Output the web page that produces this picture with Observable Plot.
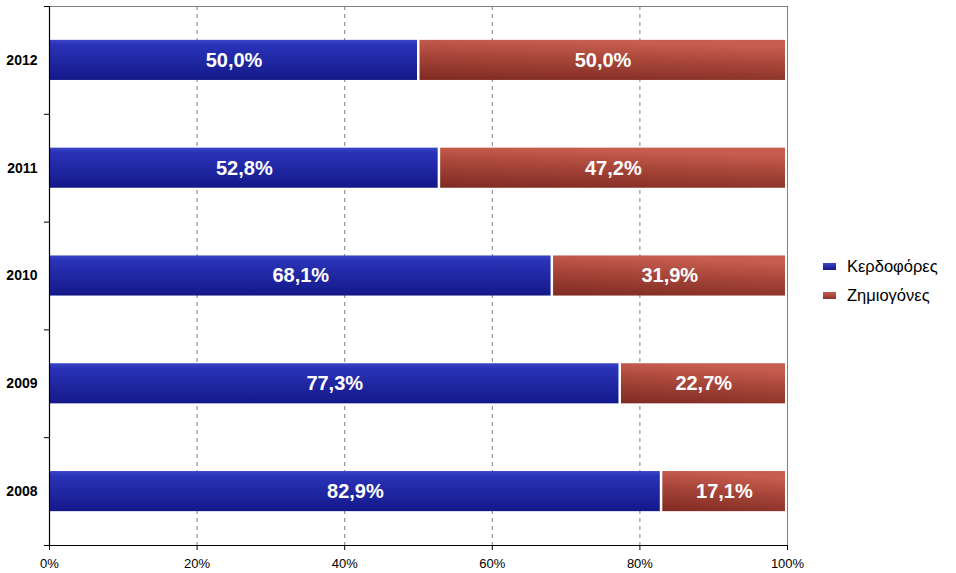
<!DOCTYPE html>
<html>
<head>
<meta charset="utf-8">
<script src="https://cdn.jsdelivr.net/npm/d3@7"></script>
<script src="https://cdn.jsdelivr.net/npm/@observablehq/plot@0.6"></script>
<style>
  body { margin: 0; background: #fff; font-family: "Liberation Sans", Arial, sans-serif; }
  #wrap { position: relative; width: 956px; height: 573px; }
  #legend { position: absolute; left: 823px; top: 252px; font-size: 16.5px; color: #000; }
  #legend .item { display: flex; align-items: center; height: 29px; }
  #legend .sw { width: 13px; height: 7px; margin-right: 11px; }
</style>
</head>
<body>
<div id="wrap"><div id="chart"></div>
<div id="legend"></div></div>
<script>
const years = [2008, 2009, 2010, 2011, 2012];
const profitable = [82.9, 77.3, 68.1, 52.8, 50.0];
const lossMaking = [17.1, 22.7, 31.9, 47.2, 50.0];
const seriesNames = ["Κερδοφόρες", "Ζημιογόνες"];
const xTicks = [0, 0.2, 0.4, 0.6, 0.8, 1];

const blue = "#2228a8", red = "#b24a3e";
const half = 0.186;

const rows = [];
years.forEach((y, i) => {
  const a = profitable[i] / 100, b = lossMaking[i] / 100;
  rows.push({year: y, series: seriesNames[0], x1: 0, x2: a, v: profitable[i]});
  rows.push({year: y, series: seriesNames[1], x1: a, x2: a + b, v: lossMaking[i]});
});
const fmt = v => v.toFixed(1).replace(".", ",") + "%";
const boundaries = years.map(y => y - 0.5).concat([years[years.length - 1] + 0.5]);

const chart = Plot.plot({
  width: 956,
  height: 573,
  marginLeft: 49,
  marginRight: 169,
  marginTop: 6,
  marginBottom: 28,
  style: {fontFamily: "'Liberation Sans', Arial, sans-serif", background: "#fff", color: "#000"},
  x: {domain: [0, 1], label: null},
  y: {domain: [boundaries[0], boundaries[boundaries.length - 1]], label: null},
  marks: [
    Plot.ruleX([0.2, 0.4, 0.6, 0.8], {stroke: "#808080", strokeDasharray: "4,4", strokeWidth: 1}),
    Plot.frame({stroke: "#808080"}),
    Plot.rect(rows.filter(d => d.series === seriesNames[0]), {
      x1: "x1", x2: "x2", y1: d => d.year - half, y2: d => d.year + half,
      fill: blue, insetRight: 1
    }),
    Plot.rect(rows.filter(d => d.series === seriesNames[1]), {
      x1: "x1", x2: "x2", y1: d => d.year - half, y2: d => d.year + half,
      fill: red, insetLeft: 1.5, insetRight: 2
    }),
    Plot.text(rows, {
      x: d => (d.x1 + d.x2) / 2, y: "year", text: d => fmt(d.v),
      fill: "white", fontSize: 20, fontWeight: "bold"
    }),
    Plot.axisX({
      ticks: xTicks, tickFormat: d => Math.round(d * 100) + "%", tickSize: 5,
      tickPadding: 8, fontSize: 13, stroke: "#000", label: null
    }),
    Plot.axisY({ticks: boundaries, tickFormat: () => "", tickSize: 5, label: null}),
    Plot.axisY({ticks: years, tickFormat: d => String(d), tickSize: 0, tickPadding: 12,
      fontSize: 14, fontWeight: "bold", label: null}),
    Plot.ruleX([0], {stroke: "#000", strokeWidth: 1.2}),
    Plot.ruleY([boundaries[0]], {stroke: "#000", strokeWidth: 1.2})
  ]
});

// gradients
const ns = "http://www.w3.org/2000/svg";
const defs = document.createElementNS(ns, "defs");
defs.innerHTML = `
<linearGradient id="gBlue" x1="0" y1="0" x2="0" y2="1">
  <stop offset="0" stop-color="#3a44c6"/>
  <stop offset="0.12" stop-color="#2a33b8"/>
  <stop offset="1" stop-color="#131888"/>
</linearGradient>
<linearGradient id="gRed" x1="0" y1="1" x2="0.25" y2="0">
  <stop offset="0" stop-color="#7e2a22"/>
  <stop offset="0.6" stop-color="#a8463a"/>
  <stop offset="1" stop-color="#c65d4f"/>
</linearGradient>`;
chart.insertBefore(defs, chart.firstChild);
chart.querySelectorAll(`g[fill="${blue}"]`).forEach(g => g.setAttribute("fill", "url(#gBlue)"));
chart.querySelectorAll(`g[fill="${red}"]`).forEach(g => g.setAttribute("fill", "url(#gRed)"));

document.getElementById("chart").appendChild(chart);

const legend = document.getElementById("legend");
[["", "linear-gradient(#3a44c6, #131888)"], ["", "linear-gradient(#c65d4f, #8e3429)"]].forEach((c, i) => {
  const item = document.createElement("div");
  item.className = "item";
  const sw = document.createElement("span");
  sw.className = "sw";
  sw.style.background = c[1];
  const t = document.createElement("span");
  t.textContent = seriesNames[i];
  item.appendChild(sw); item.appendChild(t);
  legend.appendChild(item);
});
</script>
</body>
</html>
